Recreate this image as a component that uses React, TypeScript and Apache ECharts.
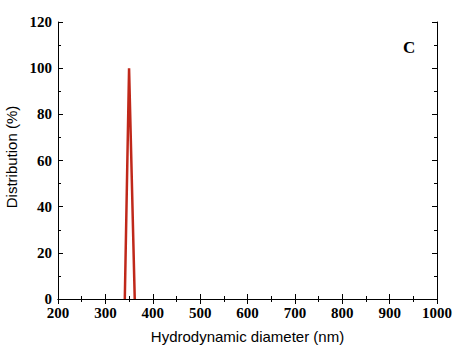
import React, { useEffect, useRef } from "react";
import * as echarts from "echarts";

const diameters = [341, 350, 362];
const distribution = [0, 100, 0];
const xTicks = { min: 200, max: 1000, interval: 100 };
const yTicks = { min: 0, max: 120, interval: 20 };
const panelLabel = "C";

export default function App() {
  const ref = useRef<HTMLDivElement>(null);
  useEffect(() => {
    const chart = echarts.init(ref.current!, null, { renderer: "svg" });
    const axisLine = { show: true, lineStyle: { color: "#000", width: 1 } };
    const axisTick = { show: true, inside: true, length: 5, lineStyle: { color: "#000" } };
    const minorTick = { show: true, splitNumber: 2, length: 3, lineStyle: { color: "#000" } };
    const fmt = (v: number) => String(v);
    const labelStyle = {
      show: true,
      fontFamily: "Liberation Serif",
      fontWeight: "bold",
      fontSize: 15,
      lineHeight: 12,
      color: "#000",
      formatter: fmt,
    };
    chart.setOption({
      animation: false,
      backgroundColor: "#fff",
      grid: { left: 58, top: 22, width: 379, height: 277, containLabel: false, outerBoundsMode: "none" },
      xAxis: [
        {
          type: "value",
          min: xTicks.min,
          max: xTicks.max,
          interval: xTicks.interval,
          position: "bottom",
          axisLine,
          axisTick,
          minorTick,
          splitLine: { show: false },
          axisLabel: { ...labelStyle, margin: 8 },
          name: "Hydrodynamic diameter (nm)",
          nameLocation: "middle",
          nameGap: 30,
          nameTextStyle: { fontFamily: "Liberation Sans", fontSize: 15, color: "#000" },
        },
        {
          type: "value",
          min: xTicks.min,
          max: xTicks.max,
          interval: xTicks.interval,
          position: "top",
          axisLine,
          axisTick,
          minorTick,
          splitLine: { show: false },
          axisLabel: { show: false },
        },
      ],
      yAxis: [
        {
          type: "value",
          min: yTicks.min,
          max: yTicks.max,
          interval: yTicks.interval,
          position: "left",
          axisLine,
          axisTick,
          minorTick,
          splitLine: { show: false },
          axisLabel: { ...labelStyle, margin: 6 },
          name: "Distribution (%)",
          nameLocation: "middle",
          nameGap: 32,
          nameTextStyle: { fontFamily: "Liberation Sans", fontSize: 15, color: "#000", padding: [0, 0, 0, 7] },
        },
        {
          type: "value",
          min: yTicks.min,
          max: yTicks.max,
          interval: yTicks.interval,
          position: "right",
          axisLine,
          axisTick,
          minorTick,
          splitLine: { show: false },
          axisLabel: { show: false },
        },
      ],
      series: [
        {
          type: "line",
          xAxisIndex: 0,
          yAxisIndex: 0,
          data: diameters.map((d, i) => [d, distribution[i]]),
          symbol: "none",
          lineStyle: { color: "#c0281a", width: 2.5 },
        },
      ],
      graphic: [
        {
          type: "text",
          left: 403,
          top: 39,
          style: { text: panelLabel, fontFamily: "Liberation Serif", fontWeight: "bold", fontSize: 17, fill: "#000" },
        },
      ],
    });
    return () => chart.dispose();
  }, []);
  return <div ref={ref} style={{ position: "fixed", left: 0, top: 0, width: 454, height: 345 }} />;
}
